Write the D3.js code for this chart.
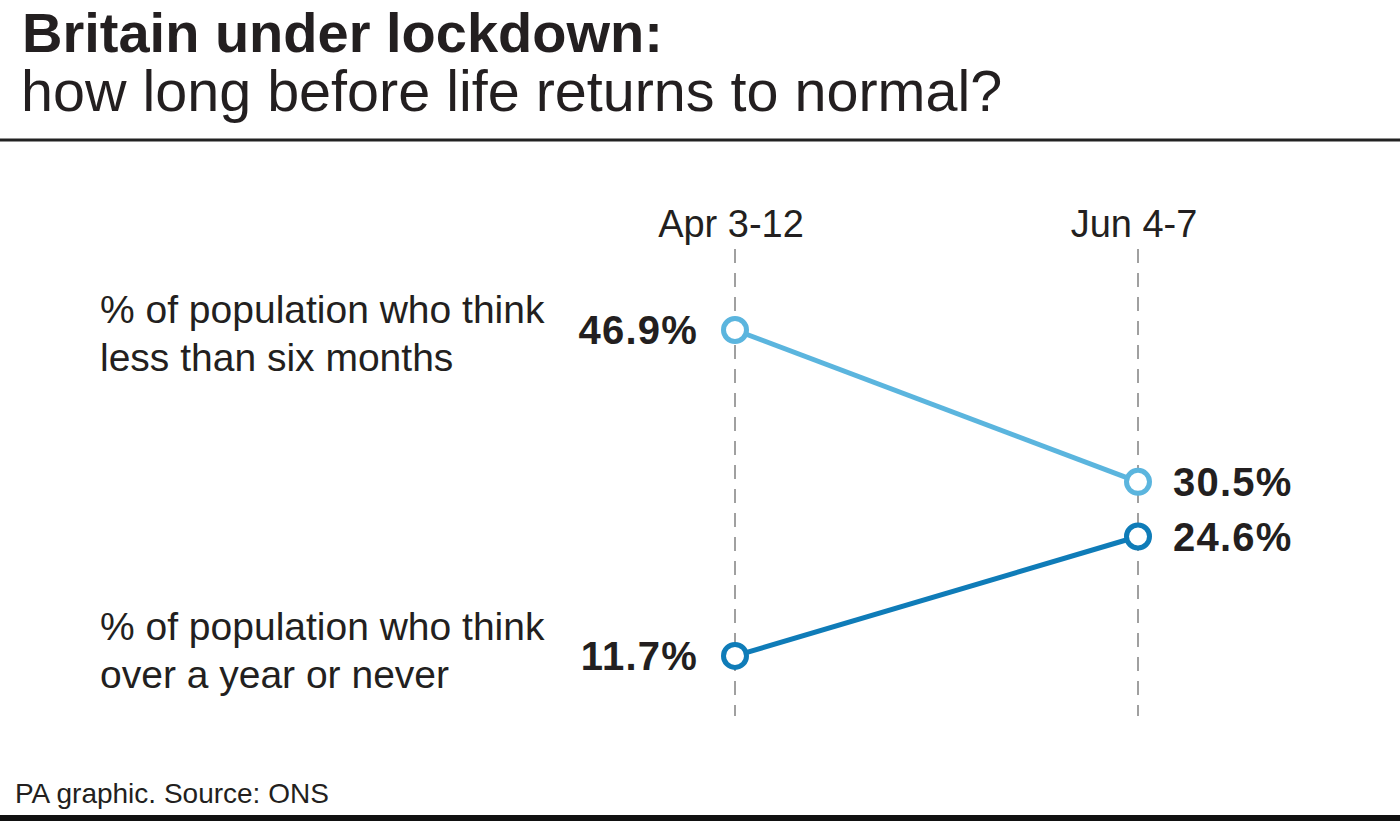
<!DOCTYPE html>
<html>
<head>
<meta charset="utf-8">
<script src="https://cdn.jsdelivr.net/npm/d3@7"></script>
<style>
  html, body { margin: 0; padding: 0; background: #fff; }
  svg { display: block; font-family: "Liberation Sans", Arial, Helvetica, sans-serif; }
</style>
</head>
<body>
<svg id="chart" width="1400" height="821"></svg>
<script>
// ---- Data ----
const periods = ["Apr 3-12", "Jun 4-7"];
const seriesNames = [
  ["% of population who think", "less than six months"],
  ["% of population who think", "over a year or never"]
];
const lessThanSixMonths = [46.9, 30.5];
const overAYearOrNever = [11.7, 24.6];
const seriesColors = ["#5bb5de", "#0f7cb8"];
const titleText = "Britain under lockdown:";
const subtitleText = "how long before life returns to normal?";
const sourceText = "PA graphic. Source: ONS";

const series = [
  { name: seriesNames[0], values: lessThanSixMonths, color: seriesColors[0] },
  { name: seriesNames[1], values: overAYearOrNever, color: seriesColors[1] }
];

// ---- Layout ----
const W = 1400, H = 821;
const ink = "#231f20";
const svg = d3.select("#chart");

const x = d3.scalePoint().domain(periods).range([735, 1138]);
const y = d3.scaleLinear().domain([0, 50]).range([764.3, 301.3]);
const labelShift = [-7, -16];

// Title
svg.append("text").attr("x", 22).attr("y", 52)
  .attr("font-size", 56).attr("font-weight", "bold").attr("fill", ink)
  .text(titleText);
svg.append("text").attr("x", 21).attr("y", 111)
  .attr("font-size", 57.5).attr("fill", ink)
  .text(subtitleText);

svg.append("line").attr("x1", 0).attr("x2", W).attr("y1", 140).attr("y2", 140)
  .attr("stroke", "#222").attr("stroke-width", 3);

// Column headers & dashed guides
const cols = svg.append("g");
cols.selectAll("text.hdr").data(periods).join("text")
  .attr("class", "hdr")
  .attr("x", d => x(d) - 4).attr("y", 237)
  .attr("text-anchor", "middle").attr("font-size", 38).attr("fill", ink)
  .text(d => d);
cols.selectAll("line.guide").data(periods).join("line")
  .attr("class", "guide")
  .attr("x1", d => x(d)).attr("x2", d => x(d))
  .attr("y1", 249).attr("y2", 716)
  .attr("stroke", "#a0a0a0").attr("stroke-width", 2)
  .attr("stroke-dasharray", "14,10");

// Row labels
const rowLabels = svg.append("g");
series.forEach((s, i) => {
  const t = rowLabels.append("text")
    .attr("x", 100).attr("y", y(s.values[0]) + labelShift[i])
    .attr("font-size", 39).attr("fill", ink);
  s.name.forEach((line, j) => {
    t.append("tspan").attr("x", 100).attr("dy", j === 0 ? 0 : 48).text(line);
  });
});

// Lines + points
const lineGen = d3.line().x((d, i) => x(periods[i])).y(d => y(d));
const g = svg.append("g");
series.forEach(s => {
  g.append("path").datum(s.values)
    .attr("d", lineGen).attr("fill", "none")
    .attr("stroke", s.color).attr("stroke-width", 5);
  g.selectAll(null).data(s.values).join("circle")
    .attr("cx", (d, i) => x(periods[i])).attr("cy", d => y(d))
    .attr("r", 11.5).attr("fill", "#fff")
    .attr("stroke", s.color).attr("stroke-width", 5);
  g.selectAll(null).data(s.values).join("text")
    .attr("x", (d, i) => i === 0 ? x(periods[i]) - 37 : x(periods[i]) + 35)
    .attr("y", d => y(d))
    .attr("dy", "0.36em")
    .attr("text-anchor", (d, i) => i === 0 ? "end" : "start")
    .attr("font-size", 40).attr("font-weight", "bold").attr("fill", ink)
    .attr("letter-spacing", 1.2)
    .text(d => d3.format(".1f")(d) + "%");
});

// Source & bottom bar
svg.append("text").attr("x", 15).attr("y", 803)
  .attr("font-size", 28).attr("fill", ink)
  .text(sourceText);
svg.append("rect").attr("x", 0).attr("y", 815).attr("width", W).attr("height", 6)
  .attr("fill", "#111");
</script>
</body>
</html>
